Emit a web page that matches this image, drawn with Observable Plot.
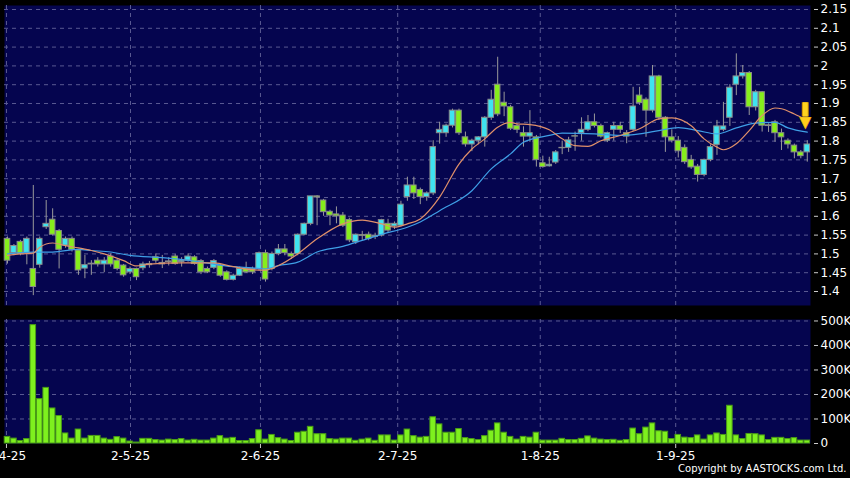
<!DOCTYPE html>
<html>
<head>
<meta charset="utf-8">
<script src="https://cdn.jsdelivr.net/npm/d3@7"></script>
<script src="https://cdn.jsdelivr.net/npm/@observablehq/plot@0.6"></script>
<style>
  html, body { margin: 0; padding: 0; background: #000; }
  #chart svg { display: block; }
</style>
</head>
<body>
<div id="chart"></div>
<script>
// ---- data ----
const openP = [1.540,1.502,1.532,1.502,1.460,1.471,1.571,1.591,1.561,1.522,
1.540,1.509,1.461,1.474,1.482,1.472,1.493,1.482,1.469,1.451,
1.460,1.462,1.470,1.491,1.472,1.478,1.493,1.478,1.482,1.491,
1.481,1.460,1.463,1.469,1.451,1.431,1.442,1.460,1.460,1.460,
1.502,1.460,1.500,1.512,1.500,1.500,1.551,1.580,1.653,1.642,
1.612,1.605,1.602,1.590,1.531,1.550,1.551,1.545,1.549,1.580,
1.573,1.575,1.651,1.682,1.670,1.651,1.661,1.821,1.821,1.841,
1.881,1.810,1.791,1.801,1.810,1.862,1.950,1.902,1.890,1.840,
1.821,1.812,1.810,1.741,1.733,1.743,1.782,1.782,1.813,1.821,
1.830,1.850,1.840,1.801,1.830,1.840,1.821,1.830,1.921,1.910,
1.881,1.972,1.862,1.810,1.801,1.782,1.750,1.732,1.710,1.750,
1.790,1.830,1.862,1.950,1.972,1.981,1.890,1.930,1.842,1.850,
1.821,1.801,1.788,1.770,1.770];
const highP = [1.545,1.525,1.536,1.545,1.682,1.545,1.642,1.620,1.565,1.545,
1.545,1.512,1.496,1.482,1.490,1.490,1.500,1.485,1.472,1.465,
1.462,1.478,1.480,1.500,1.496,1.490,1.498,1.490,1.500,1.495,
1.485,1.465,1.485,1.472,1.455,1.446,1.465,1.478,1.465,1.505,
1.510,1.505,1.525,1.525,1.505,1.553,1.582,1.653,1.655,1.645,
1.616,1.625,1.610,1.595,1.553,1.560,1.558,1.555,1.592,1.592,
1.585,1.640,1.704,1.704,1.675,1.665,1.801,1.850,1.845,1.885,
1.885,1.824,1.805,1.812,1.865,1.935,2.023,1.930,1.895,1.845,
1.838,1.881,1.815,1.760,1.757,1.775,1.800,1.810,1.824,1.862,
1.868,1.872,1.845,1.824,1.850,1.850,1.828,1.943,1.943,1.915,
2.001,1.975,1.865,1.830,1.812,1.790,1.762,1.738,1.752,1.790,
1.855,1.903,1.950,2.032,2.001,1.985,1.935,1.932,1.846,1.855,
1.832,1.806,1.792,1.775,1.801];
const lowP = [1.473,1.495,1.495,1.471,1.389,1.462,1.565,1.548,1.460,1.515,
1.505,1.443,1.434,1.443,1.465,1.450,1.465,1.455,1.438,1.445,
1.429,1.455,1.462,1.475,1.461,1.468,1.470,1.465,1.478,1.470,
1.445,1.448,1.458,1.438,1.428,1.428,1.440,1.448,1.445,1.455,
1.425,1.455,1.495,1.495,1.485,1.495,1.548,1.575,1.575,1.600,
1.575,1.580,1.570,1.530,1.525,1.535,1.535,1.538,1.545,1.555,
1.565,1.572,1.640,1.645,1.631,1.640,1.655,1.792,1.810,1.835,
1.815,1.784,1.772,1.790,1.784,1.855,1.865,1.865,1.828,1.820,
1.784,1.797,1.731,1.728,1.731,1.738,1.764,1.770,1.773,1.800,
1.825,1.835,1.808,1.796,1.800,1.820,1.793,1.825,1.895,1.810,
1.875,1.855,1.770,1.795,1.755,1.738,1.725,1.691,1.705,1.745,
1.762,1.825,1.839,1.921,1.965,1.868,1.880,1.824,1.823,1.797,
1.775,1.779,1.753,1.753,1.744];
const closeP = [1.482,1.521,1.500,1.540,1.412,1.540,1.580,1.551,1.511,1.540,
1.511,1.456,1.470,1.472,1.472,1.482,1.472,1.460,1.443,1.460,
1.438,1.472,1.473,1.482,1.476,1.480,1.473,1.482,1.493,1.473,
1.451,1.451,1.481,1.442,1.431,1.442,1.460,1.451,1.451,1.502,
1.432,1.500,1.512,1.502,1.493,1.551,1.580,1.653,1.650,1.611,
1.602,1.600,1.575,1.536,1.551,1.548,1.540,1.548,1.590,1.562,
1.580,1.631,1.682,1.661,1.651,1.661,1.784,1.830,1.841,1.881,
1.821,1.791,1.801,1.810,1.862,1.910,1.871,1.892,1.833,1.830,
1.812,1.821,1.750,1.731,1.737,1.770,1.781,1.802,1.812,1.830,
1.850,1.840,1.812,1.821,1.840,1.830,1.812,1.892,1.901,1.881,
1.972,1.862,1.810,1.801,1.773,1.744,1.730,1.710,1.750,1.784,
1.839,1.839,1.942,1.972,1.981,1.890,1.930,1.841,1.840,1.821,
1.810,1.791,1.770,1.760,1.791];
// volume in thousands of shares
const volumeK = [27,20,10,18,483,181,227,143,112,41,
20,57,20,31,31,20,15,26,20,8,
4,19,19,14,12,16,14,18,12,15,
12,12,20,30,20,23,10,10,18,54,
16,35,22,16,10,44,48,68,38,38,
18,16,20,20,11,16,20,11,33,33,
12,33,57,30,24,27,107,78,44,44,
59,22,18,14,30,52,82,44,27,16,
27,24,44,12,12,12,19,14,14,19,
29,20,16,14,15,11,14,61,38,65,
82,50,48,18,35,24,22,33,16,33,
41,35,154,33,18,39,38,33,14,23,
23,18,22,12,12];

// moving averages read at sample sessions
const maShortIdx = [0,2,4,5,7,9,11,13,15,18,20,22,27,32,35,38,40,42,45,48,52,55,58,60,62,64,67,70,72,74,76,78,79,81,84,86,88,90,92,95,98,101,103,106,108,110,111,113,115,117,119,120,122,124];
const maShortVal = [1.496,1.500,1.502,1.518,1.529,1.522,1.516,1.509,1.500,1.482,1.468,1.473,1.476,1.476,1.466,1.458,1.457,1.469,1.500,1.540,1.580,1.590,1.580,1.571,1.580,1.593,1.651,1.739,1.779,1.806,1.837,1.850,1.846,1.844,1.830,1.806,1.788,1.786,1.801,1.815,1.833,1.859,1.862,1.841,1.806,1.784,1.777,1.793,1.828,1.868,1.888,1.886,1.872,1.855];
const maLongIdx = [0,4,7,11,13,16,19,24,29,35,38,40,42,45,48,52,55,58,62,64,67,72,75,78,80,84,86,91,95,98,101,104,107,110,113,116,119,121,124];
const maLongVal = [1.500,1.505,1.505,1.512,1.509,1.505,1.496,1.490,1.481,1.466,1.463,1.460,1.469,1.478,1.505,1.520,1.536,1.552,1.571,1.585,1.615,1.668,1.726,1.766,1.797,1.815,1.821,1.819,1.815,1.819,1.828,1.836,1.828,1.819,1.835,1.848,1.850,1.835,1.824];

// date ticks (position in sessions) and labels
const dateTickPos = [-0.16, 19.07, 39.22, 60.5, 82.6, 103.6];
const dateTickLabels = ["2-4-25","2-5-25","2-6-25","2-7-25","1-8-25","1-9-25"];
const priceTicks = [1.4,1.45,1.5,1.55,1.6,1.65,1.7,1.75,1.8,1.85,1.9,1.95,2,2.05,2.1,2.15];
const priceTickLabels = ["1.4","1.45","1.5","1.55","1.6","1.65","1.7","1.75","1.8","1.85","1.9","1.95","2","2.05","2.1","2.15"];
const volTicksK = [0,100,200,300,400,500];
const volTickLabels = ["0","100K","200K","300K","400K","500K"];
const arrowMark = [{i: 124, top: 1.902, tip: 1.852}];
const copyright = "Copyright by AASTOCKS.com Ltd.";

// ---- build ----
const candles = openP.map((o, i) => ({i, open: o, high: highP[i], low: lowP[i], close: closeP[i], vol: volumeK[i]}));
const maShort = maShortIdx.map((i, k) => ({i, v: maShortVal[k]}));
const maLong = maLongIdx.map((i, k) => ({i, v: maLongVal[k]}));

const NAVY = "#05054f";
const GRID = "#5a5a92";
const CYAN = "#3fe3f0";
const GREEN = "#86ee1c";
const XDOM = [-0.465, 124.5];
const FONT = "DejaVu Sans, sans-serif";
const HALF = 0.43;

const pricePlot = Plot.plot({
  width: 850, height: 311,
  marginLeft: 4, marginRight: 40, marginTop: 5, marginBottom: 6,
  style: {background: "#000", color: "#fff", fontFamily: FONT, fontSize: "12px", overflow: "visible"},
  x: {type: "linear", domain: XDOM, axis: null, label: null},
  y: {type: "linear", domain: [1.3628, 2.1606], axis: null, label: null},
  marks: [
    Plot.frame({fill: NAVY, stroke: null}),
    Plot.ruleY(priceTicks, {stroke: GRID, strokeDasharray: "4,4", strokeWidth: 1}),
    Plot.ruleX(dateTickPos, {stroke: GRID, strokeDasharray: "4,4", strokeWidth: 1}),
    Plot.axisY({anchor: "right", label: null, ticks: priceTicks, tickFormat: d => priceTickLabels[priceTicks.indexOf(d)], tickSize: 4, tickPadding: 3, dx: 3, stroke: "#ccc", fill: "#fff", fontSize: 12}),
    Plot.ruleX(candles, {x: "i", y1: "low", y2: "high", stroke: "#9a9a9a", strokeWidth: 1}),
    Plot.rect(candles, {
      x1: d => d.i - HALF, x2: d => d.i + HALF,
      y1: "open", y2: "close",
      fill: d => d.close >= d.open ? CYAN : GREEN,
      stroke: "#8a8a8a", strokeWidth: 1
    }),
    Plot.line(maLong, {x: "i", y: "v", stroke: "#3f9fe6", strokeWidth: 1.2, curve: "monotone-x"}),
    Plot.line(maShort, {x: "i", y: "v", stroke: "#e0906a", strokeWidth: 1.2, curve: "monotone-x"}),
    Plot.ruleX(arrowMark, {x: "i", y1: "top", y2: d => d.tip + 0.012, stroke: "#c98a00", strokeWidth: 7, dx: -2}),
    Plot.ruleX(arrowMark, {x: "i", y1: "top", y2: d => d.tip + 0.012, stroke: "#ffd21f", strokeWidth: 5, dx: -2}),
    Plot.text(arrowMark, {x: "i", y: "tip", text: () => "▼", fill: "#ffcc1a", stroke: "#c98a00", strokeWidth: 0.8, fontSize: 15, dx: -2, dy: 1})
  ]
});

const volPlot = Plot.plot({
  width: 850, height: 167,
  marginLeft: 4, marginRight: 40, marginTop: 8, marginBottom: 35,
  style: {background: "#000", color: "#fff", fontFamily: FONT, fontSize: "12px", overflow: "visible"},
  x: {type: "linear", domain: XDOM, axis: null, label: null},
  y: {type: "linear", domain: [0, 506], axis: null, label: null},
  marks: [
    Plot.frame({fill: NAVY, stroke: null}),
    Plot.ruleY(volTicksK.filter(v => v > 0), {stroke: GRID, strokeDasharray: "4,4", strokeWidth: 1}),
    Plot.ruleX(dateTickPos, {stroke: GRID, strokeDasharray: "4,4", strokeWidth: 1}),
    Plot.rect(candles, {
      x1: d => d.i - HALF, x2: d => d.i + HALF,
      y1: 0, y2: "vol",
      fill: "#7ef01e", stroke: "#4a9c16", strokeWidth: 1
    }),
    Plot.axisY({anchor: "right", label: null, ticks: volTicksK, tickFormat: d => volTickLabels[volTicksK.indexOf(d)], tickSize: 4, tickPadding: 3, dx: 3, stroke: "#ccc", fill: "#fff", fontSize: 12}),
    Plot.axisX({anchor: "bottom", label: null, ticks: dateTickPos, tickFormat: d => dateTickLabels[dateTickPos.indexOf(d)], tickSize: 4, tickPadding: 3, dy: 1, stroke: "#ccc", fill: "#fff", fontSize: 12}),
    Plot.text([copyright], {frameAnchor: "bottom-right", text: d => d, textAnchor: "end", dx: 36, dy: 28, fill: "#fff", fontSize: 10})
  ]
});

const root = document.getElementById("chart");
root.appendChild(pricePlot);
root.appendChild(volPlot);
</script>
</body>
</html>
